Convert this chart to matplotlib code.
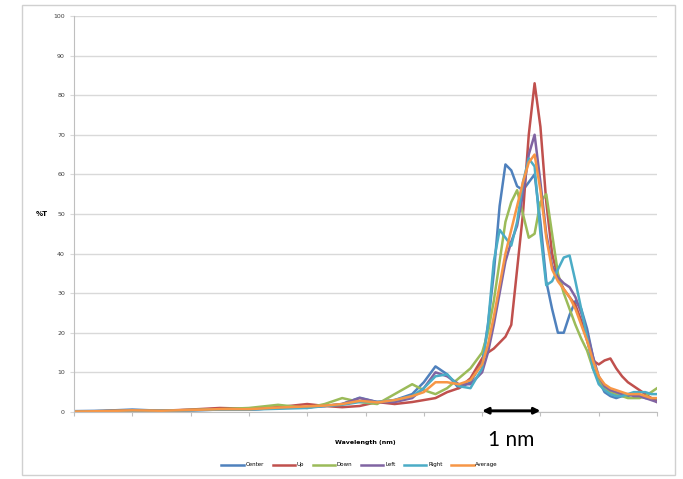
import matplotlib.pyplot as plt

# wavelength grid (nm, relative) and %T for each measurement spot
wavelength = [0, 0.5, 1.0, 1.5, 2.0, 2.5, 3.0, 3.5, 4.0, 4.3, 4.6, 4.9, 5.2, 5.5, 5.8,
              6.0, 6.2, 6.4, 6.6, 6.8, 7.0, 7.1, 7.2, 7.3, 7.4, 7.5, 7.6, 7.7, 7.8, 7.9,
              8.0, 8.1, 8.2, 8.3, 8.4, 8.5, 8.6, 8.7, 8.8, 8.9, 9.0, 9.1, 9.2, 9.3, 9.4,
              9.5, 9.6, 9.7, 9.8, 9.9, 10.0]

center = [0.2, 0.3, 0.6, 0.3, 0.5, 0.8, 0.6, 1.0, 1.2, 1.5, 2.0, 3.6, 2.5, 3.0, 4.5,
          7.5, 11.5, 9.5, 6.0, 7.5, 12.5, 22, 35, 52, 62.5, 61, 57, 56, 58, 60,
          48, 33, 26, 20, 20, 24.5, 28, 26, 21, 14, 8, 5, 4, 3.5, 4,
          4, 4.5, 4, 3.5, 3.5, 3]
up = [0.1, 0.2, 0.4, 0.3, 0.6, 1.0, 0.8, 1.2, 2.0, 1.5, 1.2, 1.5, 2.5, 2.0, 2.5,
      3.0, 3.5, 5.0, 6.0, 8.5, 13.5, 15, 16, 17.5, 19, 22, 36, 50, 70, 83,
      72, 53, 40, 34, 31, 29, 27, 23, 18, 13, 12, 13, 13.5, 11, 9,
      7.5, 6.5, 5.5, 4.5, 3.5, 2.5]
down = [0.1, 0.2, 0.3, 0.3, 0.5, 0.7, 1.0, 1.8, 1.0, 2.0, 3.5, 2.5, 2.0, 4.5, 7.0,
        5.5, 4.5, 6.0, 8.5, 11.0, 15, 20, 28, 38, 48, 53, 56, 50, 44, 45,
        53, 55, 45, 35, 30, 26, 22, 18.5, 15.5, 11, 8, 6, 5, 4.5, 4,
        3.5, 3.5, 3.5, 4, 5, 6]
left = [0.1, 0.2, 0.3, 0.3, 0.4, 0.6, 0.6, 1.0, 1.2, 1.5, 2.0, 3.5, 2.5, 2.5, 3.5,
        6.0, 10.0, 9.0, 7.0, 7.0, 10, 15, 22, 30, 38, 43, 47, 55, 65, 70,
        58, 45, 37, 34, 32.5, 31.5, 29, 25, 20, 14, 9, 6.5, 5.5, 5, 4.5,
        4.5, 4, 4, 3.5, 3, 2.5]
right = [0.1, 0.2, 0.3, 0.3, 0.4, 0.6, 0.6, 0.8, 1.0, 1.5, 1.8, 2.5, 2.5, 3.0, 4.0,
         6.0, 9.0, 9.5, 6.5, 6.0, 11, 22, 38, 46, 44, 42, 48, 58, 64, 62,
         45, 32, 33, 36, 39, 39.5, 33, 26, 19, 11, 7, 5.5, 4.5, 4, 4,
         4.5, 5, 5, 5, 4.5, 4.5]
average = [0.1, 0.2, 0.4, 0.3, 0.5, 0.7, 0.7, 1.1, 1.4, 1.6, 2.0, 2.8, 2.4, 3.0, 4.0,
           5.0, 7.5, 7.5, 7.0, 8.0, 12, 17, 24, 32, 40, 46, 52, 58, 63, 65,
           56, 44, 36, 33, 31, 29, 26, 22, 18, 13, 9, 7, 6, 5.5, 5,
           4.5, 4.5, 4.5, 4, 3.5, 3.5]

names = ['Center', 'Up', 'Down', 'Left', 'Right', 'Average']
series = [center, up, down, left, right, average]
colors = ['#4F81BD', '#C0504D', '#9BBB59', '#8064A2', '#4BACC6', '#F79646']

fig = plt.figure(figsize=(6.83, 4.79), dpi=100)
# chart area border
fig.patches.append(plt.Rectangle((0.032, 0.008), 0.956, 0.982, transform=fig.transFigure,
                                 fill=False, edgecolor='#D0D0D0', linewidth=1))

ax = fig.add_axes([0.1083, 0.14, 0.8537, 0.8267])
for name, y, c in zip(names, series, colors):
    ax.plot(wavelength, y, color=c, linewidth=1.8, label=name)

ax.set_xlim(0, 10)
ax.set_ylim(0, 100)
ax.set_yticks(range(0, 101, 10))
ax.set_xticks(range(0, 11))
ax.set_xticklabels([])
ax.yaxis.grid(True, color='#D9D9D9', linewidth=1)
ax.set_axisbelow(True)
for s in ['top', 'right']:
    ax.spines[s].set_visible(False)
ax.spines['left'].set_color('#BFBFBF')
ax.spines['bottom'].set_color('#BFBFBF')
ax.tick_params(axis='y', labelsize=4.5, labelcolor='#404040', color='#D9D9D9', length=3)
ax.tick_params(axis='x', color='#BFBFBF', length=3)

ax.set_ylabel('%T', fontsize=5, fontweight='bold', rotation=0, labelpad=8, va='center')
ax.set_xlabel('Wavelength (nm)', fontsize=4.5, fontweight='bold', labelpad=14)

# scale bar: 1 nm
ax.annotate('', xy=(7.0, 0.3), xytext=(8.0, 0.3), annotation_clip=False,
            arrowprops=dict(arrowstyle='<|-|>', color='black', lw=2, mutation_scale=9,
                            shrinkA=0, shrinkB=0))
ax.text(7.5, -7.2, '1 nm', fontsize=15, family='Lato', ha='center', va='center',
        clip_on=False)

ax.legend(loc='upper center', bbox_to_anchor=(0.49, -0.115), ncol=6, frameon=False,
          fontsize=4, handlelength=4, columnspacing=1.6, handletextpad=0.3)

fig.savefig('out.png', dpi=100)
